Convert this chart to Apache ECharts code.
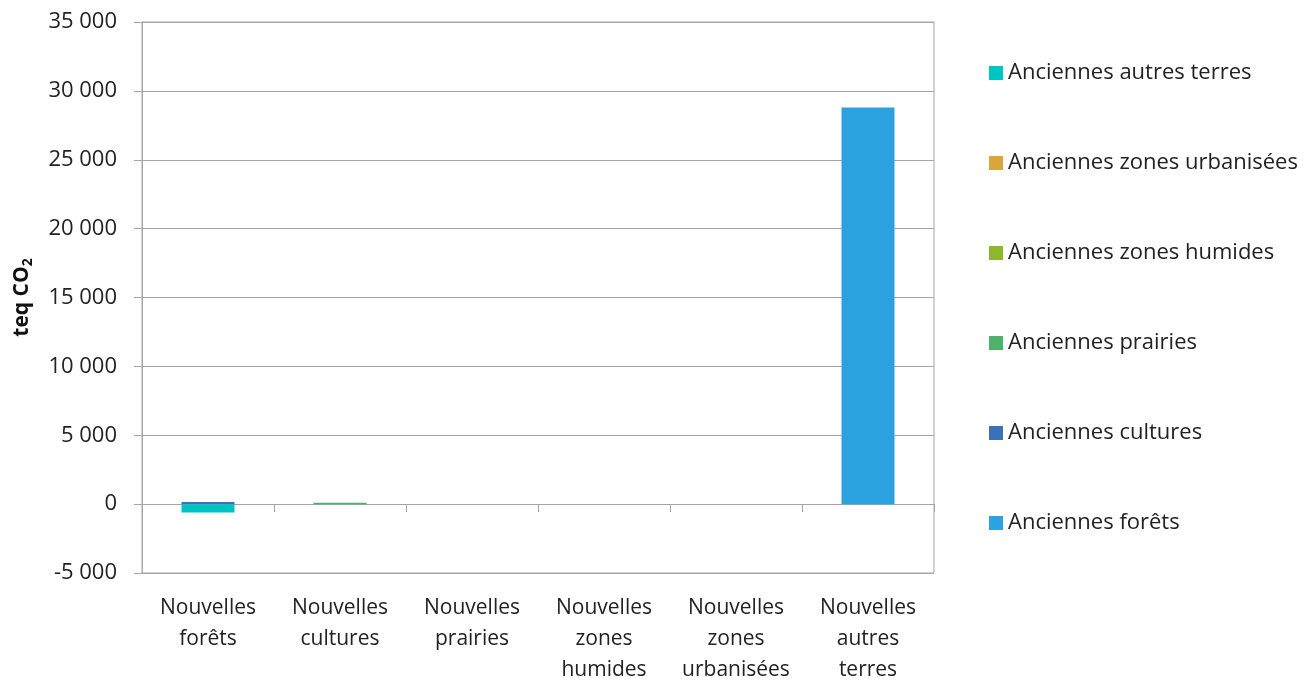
<!DOCTYPE html>
<html lang="fr">
<head>
    <meta charset="UTF-8">
    <title>teq CO2</title>
    <script type="text/javascript" src="https://cdn.jsdelivr.net/npm/echarts@6/dist/echarts.min.js"></script>
    <style>
        body { margin: 0; background: #fff; }
        #main { width: 1314px; height: 684px; }
    </style>
</head>
<body>
<div id="main"></div>
<script type="text/javascript">
    // catégories (axe x)
    var categories = ['Nouvelles\nforêts', 'Nouvelles\ncultures', 'Nouvelles\nprairies',
        'Nouvelles\nzones\nhumides', 'Nouvelles\nzones\nurbanisées', 'Nouvelles\nautres\nterres'];

    // valeurs (teq CO2)
    var anciennesForets = [0, 0, 0, 0, 0, 28800];
    var anciennesCultures = [150, 0, 0, 0, 0, 0];
    var anciennesPrairies = [0, 100, 0, 0, 0, 0];
    var anciennesZonesHumides = [0, 0, 0, 0, 0, 0];
    var anciennesZonesUrbanisees = [0, 0, 0, 0, 0, 0];
    var anciennesAutresTerres = [-600, 0, 0, 0, 0, 0];

    var seriesNames = ['Anciennes forêts', 'Anciennes cultures', 'Anciennes prairies',
        'Anciennes zones humides', 'Anciennes zones urbanisées', 'Anciennes autres terres'];
    var seriesData = [anciennesForets, anciennesCultures, anciennesPrairies,
        anciennesZonesHumides, anciennesZonesUrbanisees, anciennesAutresTerres];
    var colors = ['#2CA1DF', '#3A72BA', '#4DB36B', '#8DB82A', '#D8A63A', '#00C3C3'];

    var font = 'Open Sans';
    var myChart = echarts.init(document.getElementById('main'));

    var series = [];
    for (var i = 0; i < seriesNames.length; i++) {
        series.push({
            name: seriesNames[i],
            type: 'bar',
            stack: 'total',
            xAxisIndex: 0,
            barWidth: 53,
            data: seriesData[i],
            itemStyle: {color: colors[i]}
        });
    }

    var option = {
        animation: false,
        color: colors,
        grid: {
            left: 142, right: 380, top: 22, bottom: 111,
            outerBoundsMode: 'none',
            show: true, borderColor: '#A6A6A6', borderWidth: 1
        },
        legend: {
            orient: 'vertical',
            left: 984,
            top: 53,
            itemWidth: 14,
            itemHeight: 14,
            itemGap: 60,
            icon: 'rect',
            data: seriesNames.slice().reverse(),
            textStyle: {fontFamily: font, fontSize: 22, color: '#222', lineHeight: 30}
        },
        xAxis: [{
            type: 'category',
            data: categories,
            position: 'bottom',
            axisLine: {show: false, onZero: false},
            axisTick: {show: false},
            axisLabel: {
                fontFamily: font, fontSize: 21, color: '#222',
                lineHeight: 31, margin: 20, interval: 0
            }
        }, {
            type: 'category',
            data: categories,
            position: 'bottom',
            axisLine: {show: true, onZero: true, lineStyle: {color: '#A6A6A6', width: 1}},
            axisTick: {show: true, length: 8, lineStyle: {color: '#A6A6A6'}},
            axisLabel: {show: false}
        }],
        yAxis: {
            type: 'value',
            min: -5000,
            max: 35000,
            interval: 5000,
            name: 'teq CO{sub|2}',
            nameLocation: 'middle',
            nameRotate: 90,
            nameGap: 107,
            nameTextStyle: {
                fontFamily: font, fontSize: 21, fontWeight: 'bold', color: '#111',
                rich: {sub: {fontFamily: font, fontSize: 14, fontWeight: 'bold', color: '#111', padding: [11, 0, 0, 0]}}
            },
            axisLine: {show: true, lineStyle: {color: '#A6A6A6'}},
            axisTick: {show: true, length: 8, lineStyle: {color: '#A6A6A6'}},
            splitLine: {show: true, lineStyle: {color: '#A6A6A6', width: 1}},
            axisLabel: {
                fontFamily: font, fontSize: 22, color: '#222', margin: 25,
                formatter: function (v) {
                    var s = Math.abs(v).toString().replace(/\B(?=(\d{3})+(?!\d))/g, ' ');
                    return (v < 0 ? '-' : '') + s;
                }
            }
        },
        series: series
    };
    myChart.setOption(option);
</script>
</body>
</html>
